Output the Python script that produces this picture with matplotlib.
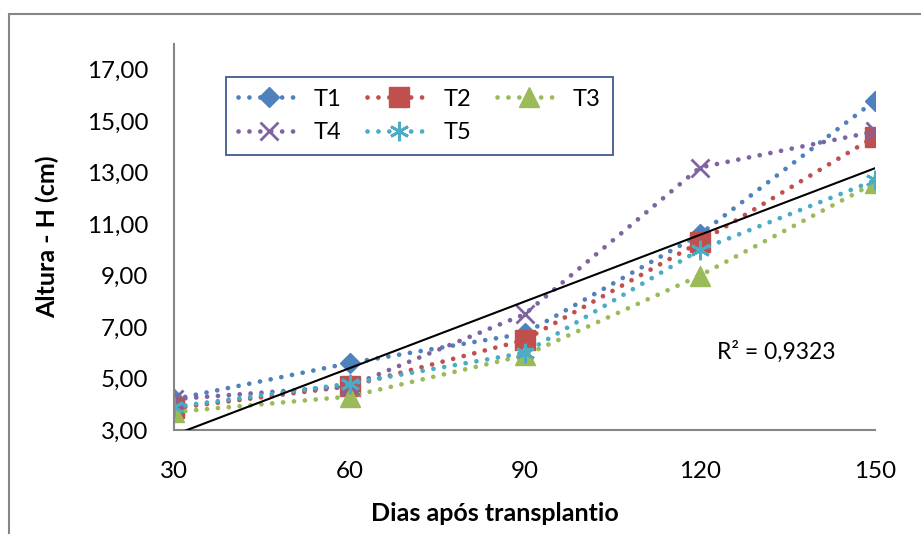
import numpy as np
import matplotlib
matplotlib.use("Agg")
import matplotlib.pyplot as plt
from matplotlib.patches import Rectangle

plt.rcParams['font.family'] = ['Lato', 'DejaVu Sans']

# days after transplanting
dias = [30, 60, 90, 120, 150]
# plant height (cm) for each treatment
T1 = [4.2, 5.6, 6.75, 10.6, 15.8]
T2 = [3.85, 4.7, 6.5, 10.3, 14.4]
T3 = [3.7, 4.3, 5.9, 9.0, 12.6]
T4 = [4.2, 4.7, 7.5, 13.2, 14.6]
T5 = [3.9, 4.8, 6.0, 10.0, 12.7]
nomes = ['T1', 'T2', 'T3', 'T4', 'T5']
yticks = [3, 5, 7, 9, 11, 13, 15, 17]
ytick_labels = ['3,00', '5,00', '7,00', '9,00', '11,00', '13,00', '15,00', '17,00']
r2_text = 'R² = 0,9323'

cores = ['#4F81BD', '#C0504D', '#9BBB59', '#8064A2', '#4BACC6']
marcadores = ['D', 's', '^', 'x', (6, 2, 0)]
tamanhos = [10.5, 14, 15, 13, 14]

fig = plt.figure(figsize=(9.21, 5.34), dpi=100)
ax = fig.add_axes([0.1894, 0.1948, 0.7606, 0.7228])

# outer chart border
fig.patches.append(Rectangle((9 / 921, -0.2), 1.2, 1 - 13.6 / 534 + 0.2,
                             transform=fig.transFigure, fill=False,
                             edgecolor='#868686', lw=1.5))

linhas = []
for serie, nome, cor, mk, ms in zip([T1, T2, T3, T4, T5], nomes, cores, marcadores, tamanhos):
    l, = ax.plot(dias, serie, color=cor, lw=3.4, ls=(0, (0.01, 2.3)),
                 dash_capstyle='round', marker=mk, markersize=ms,
                 markeredgewidth=2 if mk in ('x', (6, 2, 0)) else 1,
                 markeredgecolor=cor, label=nome)
    linhas.append(l)

# linear trendline on all points
todos_x = np.tile(dias, 5)
todos_y = np.concatenate([T1, T2, T3, T4, T5])
a1, a0 = np.polyfit(todos_x, todos_y, 1)
xs = np.array([dias[0], dias[-1]])
ax.plot(xs, a0 + a1 * xs, color='black', lw=1.5, zorder=5)

ax.text(122.9, 6.03, r2_text, fontsize=16.5, va='center', ha='left')

ax.set_xlim(30, 150)
ax.set_ylim(3, 18)
ax.set_xticks(dias)
ax.set_xticklabels([str(d) for d in dias])
ax.set_yticks(yticks)
ax.set_yticklabels(ytick_labels)
ax.tick_params(axis='both', length=0, labelsize=17.4)
ax.tick_params(axis='x', pad=22)
ax.tick_params(axis='y', pad=19)

for s in ['top', 'right']:
    ax.spines[s].set_visible(False)
for s in ['left', 'bottom']:
    ax.spines[s].set_color('#868686')
    ax.spines[s].set_linewidth(1.5)

ax.set_xlabel('Dias após transplantio', fontsize=18, fontweight='bold', va='center')
ax.set_ylabel('Altura - H (cm)', fontsize=18, fontweight='bold', va='center')
ax.xaxis.set_label_coords(0.4576, -0.2176)
ax.yaxis.set_label_coords(-0.1818, 0.5)

ordem = [0, 3, 1, 4, 2]
leg = fig.legend([linhas[i] for i in ordem], [nomes[i] for i in ordem],
                 ncol=3, loc='upper left', bbox_to_anchor=(225.7 / 921, 1 - 76.7 / 534),
                 borderaxespad=0, fontsize=17, handlelength=2.67, handletextpad=0.55,
                 columnspacing=1.1, labelspacing=0.55, borderpad=0.5,
                 fancybox=False, framealpha=1, numpoints=1)
leg.get_frame().set_edgecolor('#3F5A8F')
leg.get_frame().set_linewidth(1.3)

fig.savefig('out.png', dpi=100)
